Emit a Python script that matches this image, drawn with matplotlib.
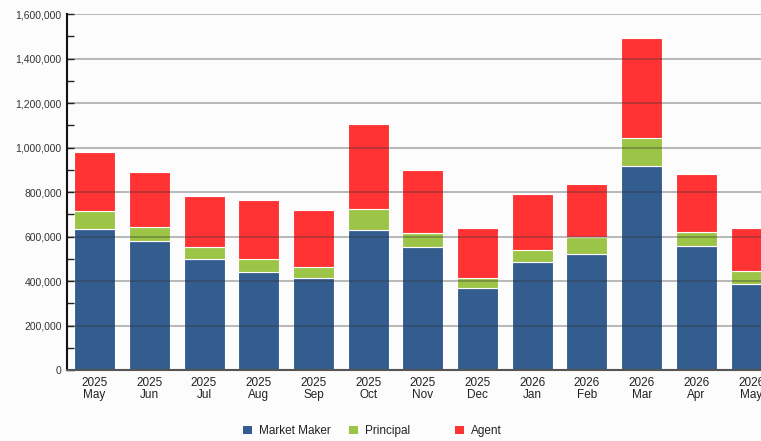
import matplotlib
matplotlib.use("Agg")
import matplotlib.pyplot as plt
from matplotlib.patches import Patch
from matplotlib.ticker import MultipleLocator, FuncFormatter

years = ["2025"] * 8 + ["2026"] * 5
months = ["May", "Jun", "Jul", "Aug", "Sep", "Oct", "Nov", "Dec",
          "Jan", "Feb", "Mar", "Apr", "May"]
market_maker = [632000, 578000, 497000, 442000, 415000, 631000, 551000, 370000,
                487000, 523000, 918000, 559000, 388000]
principal = [81000, 63000, 56000, 55000, 46000, 91000, 63000, 45000,
             54000, 73000, 125000, 63000, 55000]
agent = [268000, 250000, 230000, 267000, 258000, 384000, 285000, 223000,
         250000, 240000, 449000, 259000, 195000]
series_names = ["Market Maker", "Principal", "Agent"]
colors = ["#335d8f", "#9cc446", "#ff3333"]

plt.rcParams['font.family'] = ['Liberation Sans', 'DejaVu Sans']
bg = "#fcfcfc"
fig = plt.figure(figsize=(7.61, 4.41), dpi=100, facecolor=bg)
ax = fig.add_axes([0.0884, 0.161, 0.9345, 0.807], facecolor=bg)

x = list(range(len(months)))
w = 0.75
bottom2 = [a + b for a, b in zip(market_maker, principal)]
ax.bar(x, market_maker, w, color=colors[0], edgecolor="white", linewidth=0.8, zorder=2)
ax.bar(x, principal, w, bottom=market_maker, color=colors[1], edgecolor="white", linewidth=0.8, zorder=2)
ax.bar(x, agent, w, bottom=bottom2, color=colors[2], edgecolor="white", linewidth=0.8, zorder=2)

ax.set_xlim(-0.5, 12.5)
ax.set_ylim(0, 1600000)
ax.yaxis.set_major_locator(MultipleLocator(200000))
ax.yaxis.set_minor_locator(MultipleLocator(100000))
ax.yaxis.set_major_formatter(FuncFormatter(lambda v, p: f"{int(v):,}"))
ax.grid(axis="y", which="major", color="#333333", alpha=0.4, linewidth=1.2, zorder=3)
ax.set_axisbelow(False)
ax.tick_params(axis="y", which="both", direction="in", length=5, width=1, color="#222222",
               labelsize=7.5, labelcolor="#333333", pad=4)
ax.set_xticks(x)
ax.set_xticklabels([f"{y}\n{m}" for y, m in zip(years, months)], fontsize=8.5, color="#222222",
                   linespacing=1.05)
ax.tick_params(axis="x", length=0, pad=5)

for s in ["top", "right"]:
    ax.spines[s].set_visible(False)
ax.spines["left"].set_color("#111111")
ax.spines["left"].set_linewidth(1.5)
ax.spines["bottom"].set_color("#555555")
ax.spines["bottom"].set_linewidth(1.5)
ax.spines["left"].set_zorder(4)
ax.spines["bottom"].set_zorder(4)

leg_x = [243 / 761, 349 / 761, 455 / 761]
for name, c, lx in zip(series_names, colors, leg_x):
    lg = fig.legend(handles=[Patch(facecolor=c, edgecolor="none")], labels=[name],
                    loc="center left", bbox_to_anchor=(lx, 1 - 431 / 441), frameon=False,
                    fontsize=8.5, handlelength=0.75, handleheight=0.75, handletextpad=0.6,
                    borderpad=0, borderaxespad=0)
    for t in lg.get_texts():
        t.set_color("#222222")

fig.savefig("out.png", dpi=100, facecolor=bg)
